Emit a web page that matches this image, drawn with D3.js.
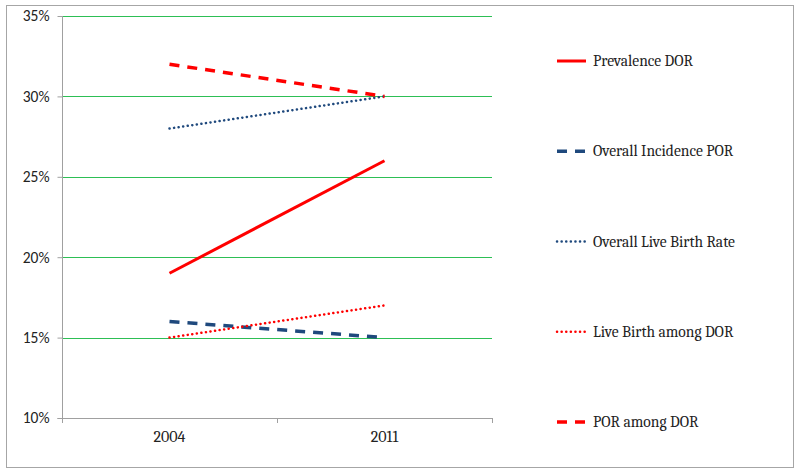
<!DOCTYPE html>
<html><head><meta charset="utf-8">
<script src="https://cdn.jsdelivr.net/npm/d3@7"></script>
<style>body{margin:0;background:#fff}</style>
</head><body>
<svg id="c" width="800" height="475"></svg>
<script>
const categories = ["2004", "2011"];
const yTicks = [0.10, 0.15, 0.20, 0.25, 0.30, 0.35];
const seriesNames = ["Prevalence DOR", "Overall Incidence POR", "Overall Live Birth Rate", "Live Birth among DOR", "POR among DOR"];
const prevalenceDOR = [0.19, 0.26];
const overallIncidencePOR = [0.16, 0.15];
const overallLiveBirthRate = [0.28, 0.30];
const liveBirthAmongDOR = [0.15, 0.17];
const porAmongDOR = [0.32, 0.30];

const styles = [
  {color:"#ff0000", dash:null, w:3, cap:"butt"},
  {color:"#1f497d", dash:"10,8", w:3.5, cap:"butt"},
  {color:"#1f497d", dash:"0.1,4.5", w:2.5, cap:"round"},
  {color:"#ff0000", dash:"0.1,4.5", w:2.5, cap:"round"},
  {color:"#ff0000", dash:"10,8", w:3.5, cap:"butt"}
];
const values = [prevalenceDOR, overallIncidencePOR, overallLiveBirthRate, liveBirthAmongDOR, porAmongDOR];

const svg = d3.select("#c");
svg.append("rect").attr("x",6.5).attr("y",5.5).attr("width",787).attr("height",462)
  .attr("fill","#fff").attr("stroke","#a6a6a6").attr("stroke-width",1);

const L=62, R=492, T=16, B=418;
const x = d3.scaleBand().domain(categories).range([L,R]);
const y = d3.scaleLinear().domain([0.10,0.35]).range([B,T]);
const serif = "Cambria, Caladea, 'Liberation Serif', 'DejaVu Serif', serif";

// gridlines
svg.append("g").selectAll("line").data(yTicks.filter(t=>t>0.10)).join("line")
  .attr("x1",L).attr("x2",R).attr("y1",d=>Math.round(y(d))+0.5).attr("y2",d=>Math.round(y(d))+0.5)
  .attr("stroke","#2dbf55").attr("stroke-width",1.2);

// y axis
const yAxis = svg.append("g").attr("transform",`translate(${L+0.5},0)`)
  .call(d3.axisLeft(y).tickValues(yTicks).tickFormat(d3.format(".0%")).tickSize(5).tickPadding(8));
yAxis.select(".domain").attr("stroke","#a0a0a0").attr("d",`M-5,${B+0.5}H0V${T}`);
yAxis.selectAll(".tick line").attr("stroke","#a0a0a0");
yAxis.selectAll(".tick text").attr("font-family","Carlito, 'Liberation Sans', sans-serif").attr("font-size",15.5).attr("fill","#222");

// x axis
const xAxis = svg.append("g").attr("transform",`translate(0,${B+0.5})`)
  .call(d3.axisBottom(x).tickSize(0).tickPadding(12));
xAxis.select(".domain").attr("stroke","#a0a0a0").attr("d",`M${L},0H${R}`);
xAxis.selectAll(".tick text").attr("font-family",serif).attr("font-size",16).attr("fill","#222");
// boundary tick marks between categories
const bounds = [L, L + x.bandwidth(), R];
svg.append("g").selectAll("line").data(bounds).join("line")
  .attr("x1",d=>d+0.5).attr("x2",d=>d+0.5).attr("y1",B).attr("y2",B+5)
  .attr("stroke","#a0a0a0");

// lines
const line = d3.line().x((d,i)=>x(categories[i])+x.bandwidth()/2).y(d=>y(d));
const order = [1,3,2,4,0];
order.forEach(i=>{
  const s = styles[i];
  svg.append("path").datum(values[i]).attr("d",line).attr("fill","none")
    .attr("stroke",s.color).attr("stroke-width",s.w).attr("stroke-linecap",s.cap)
    .attr("stroke-dasharray",s.dash);
});

// legend
const legY = d3.scalePoint().domain(seriesNames).range([61,422]);
const lg = svg.append("g").selectAll("g").data(seriesNames).join("g")
  .attr("transform",d=>`translate(557,${legY(d)})`);
lg.append("line").attr("x1",0).attr("x2",29).attr("y1",0).attr("y2",0)
  .attr("stroke",(d,i)=>styles[i].color).attr("stroke-width",(d,i)=>styles[i].w)
  .attr("stroke-linecap",(d,i)=>styles[i].cap).attr("stroke-dasharray",(d,i)=>styles[i].dash);
lg.append("text").attr("x",36).attr("y",5).text(d=>d)
  .attr("font-family",serif).attr("font-size",15.5).attr("fill","#222");
</script>
</body></html>
